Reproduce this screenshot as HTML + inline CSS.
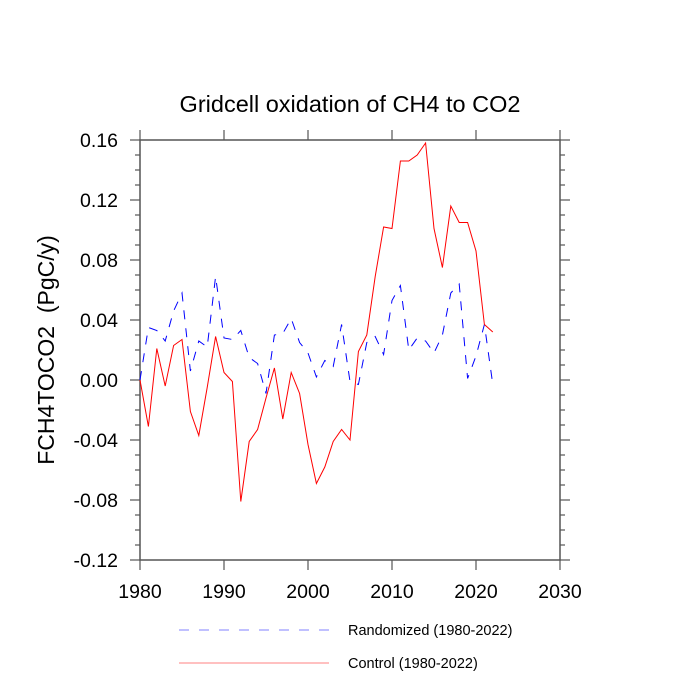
<!DOCTYPE html>
<html><head><meta charset="utf-8"><style>
body{margin:0;background:#fff}
svg{display:block;font-family:"Liberation Sans",Arial,sans-serif}
</style></head><body>
<svg id="c" width="700" height="700">
<text x="350" y="112" text-anchor="middle" font-size="23.5">Gridcell oxidation of CH4 to CO2</text>
<text transform="translate(54,350) rotate(-90)" text-anchor="middle" font-size="23" style="white-space:pre" xml:space="preserve">FCH4TOCO2  (PgC/y)</text>
<g id="axes"></g>
<g id="series"></g>
<g>
<line x1="179" y1="630" x2="329" y2="630" stroke="#8080ff" stroke-width="1" stroke-dasharray="10,10"/>
<text x="348" y="635" font-size="14.5">Randomized (1980-2022)</text>
<line x1="179" y1="663" x2="329" y2="663" stroke="#ff8080" stroke-width="1"/>
<text x="348" y="668" font-size="14.5">Control (1980-2022)</text>
</g>
</svg>
<script>
const years=[1980,1981,1982,1983,1984,1985,1986,1987,1988,1989,1990,1991,1992,1993,1994,1995,1996,1997,1998,1999,2000,2001,2002,2003,2004,2005,2006,2007,2008,2009,2010,2011,2012,2013,2014,2015,2016,2017,2018,2019,2020,2021,2022];
const control=[0.0,-0.031,0.021,-0.004,0.023,0.027,-0.021,-0.037,-0.005,0.029,0.005,-0.001,-0.081,-0.041,-0.033,-0.012,0.008,-0.026,0.005,-0.009,-0.043,-0.069,-0.058,-0.041,-0.033,-0.040,0.019,0.030,0.069,0.102,0.101,0.146,0.146,0.150,0.158,0.101,0.075,0.116,0.105,0.105,0.086,0.037,0.032];
const randomized=[0.0,0.035,0.033,0.026,0.046,0.058,0.006,0.026,0.022,0.069,0.028,0.027,0.033,0.015,0.011,-0.009,0.030,0.031,0.041,0.025,0.018,0.002,0.013,0.009,0.037,-0.001,-0.003,0.025,0.029,0.017,0.053,0.063,0.020,0.028,0.026,0.018,0.030,0.058,0.064,0.001,0.016,0.037,-0.003];
const xTicks=[1980,1990,2000,2010,2020,2030];
const yTicks=[-0.12,-0.08,-0.04,0.00,0.04,0.08,0.12,0.16];
const yTickLabels=["-0.12","-0.08","-0.04","0.00","0.04","0.08","0.12","0.16"];
const L=140,R=560,T=140,B=560;
const xs=v=>L+(v-1980)/(2030-1980)*(R-L);
const ys=v=>B-(v+0.12)/(0.28)*(B-T);
const NS="http://www.w3.org/2000/svg";
function mk(p,tag,a){const e=document.createElementNS(NS,tag);for(const k in a)e.setAttribute(k,a[k]);p.appendChild(e);return e;}
const ax=document.getElementById('axes');
const frame=mk(ax,'rect',{x:L,y:T,width:R-L,height:B-T,fill:'none',stroke:'#555','stroke-width':1.5});


for(let i=0;i<=28;i++){const v=-0.12+i*0.01;const y=ys(v);const major=i%4===0;const len=major?10:5;
 const t1=mk(ax,'line',{x1:L-len,y1:y,x2:L,y2:y,stroke:'#555','stroke-width':1.2});
 
 
 const t2=mk(ax,'line',{x1:R,y1:y,x2:R+len,y2:y,stroke:'#555','stroke-width':1.2});
 
 }
yTicks.forEach((v,i)=>{const t=mk(ax,'text',{x:L-22,y:ys(v)+7,'text-anchor':'end','font-size':19.5});t.textContent=yTickLabels[i];
 
 });
xTicks.forEach(v=>{const x=xs(v);
 const a=mk(ax,'line',{x1:x,y1:B,x2:x,y2:B+10,stroke:'#555','stroke-width':1.2});
 
 
 const b=mk(ax,'line',{x1:x,y1:T-10,x2:x,y2:T,stroke:'#555','stroke-width':1.2});
 
 
 const t=mk(ax,'text',{x:x,y:B+38,'text-anchor':'middle','font-size':19.5});t.textContent=v;
 
 });
const sg=document.getElementById('series');
const pts=arr=>arr.map((v,i)=>xs(years[i]).toFixed(1)+','+ys(v).toFixed(1)).join(' ');
const r=mk(sg,'polyline',{points:pts(randomized),fill:'none',stroke:'#0000ff','stroke-width':1,'stroke-dasharray':'9,9'});


const c=mk(sg,'polyline',{points:pts(control),fill:'none',stroke:'#ff0000','stroke-width':1});


</script>
</body></html>
